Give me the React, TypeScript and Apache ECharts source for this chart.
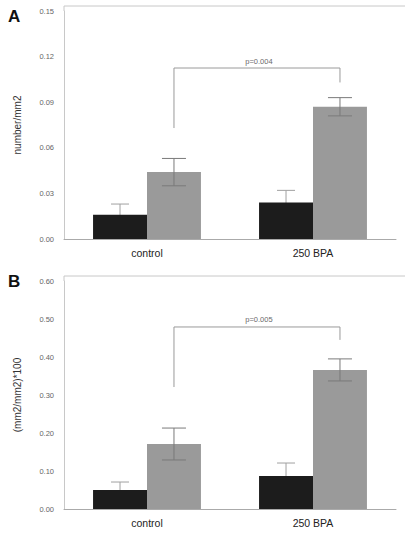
import React, { useEffect, useRef } from "react";
import * as echarts from "echarts";

const categories = ["control", "250 BPA"];

// Panel A: number/mm2
const aBlack = [0.016, 0.024];
const aBlackErr = [0.007, 0.008];
const aGray = [0.044, 0.087];
const aGrayErr = [0.009, 0.006];
const aTicks = { min: 0, max: 0.15, interval: 0.03 };
const aBracket = { y: 0.1125, yLeft: 0.073, yRight: 0.103, label: "p=0.004" };

// Panel B: (mm2/mm2)*100
const bBlack = [0.05, 0.087];
const bBlackErr = [0.021, 0.034];
const bGray = [0.171, 0.366];
const bGrayErr = [0.042, 0.029];
const bTicks = { min: 0, max: 0.6, interval: 0.1 };
const bBracket = { y: 0.479, yLeft: 0.321, yRight: 0.445, label: "p=0.005" };

const BAR_FRAC = 0.325;
const FONT = "Liberation Sans, Arial, sans-serif";

function errSeries(vals: number[], errs: number[], sign: number, idx: number, color: string, hw: number, z: number) {
  return {
    type: "custom",
    xAxisIndex: idx,
    yAxisIndex: idx,
    clip: false,
    z,
    encode: { x: 0, y: 1 },
    data: vals.map((v, i) => [i, v, errs[i]]),
    renderItem: (params: any, api: any) => {
      const x = api.value(0);
      const v = api.value(1);
      const e = api.value(2);
      const band = api.size([1, 0])[0];
      const off = (sign * band * BAR_FRAC) / 2;
      const top = api.coord([x, v + e]);
      const bot = api.coord([x, v - e]);
      const cx = top[0] + off;
      return {
        type: "group",
        children: [
          { type: "line", shape: { x1: cx, y1: bot[1], x2: cx, y2: top[1] }, style: { stroke: color, lineWidth: 1 } },
          { type: "line", shape: { x1: cx - hw, y1: top[1], x2: cx + hw, y2: top[1] }, style: { stroke: color, lineWidth: 1 } },
          { type: "line", shape: { x1: cx - hw, y1: bot[1], x2: cx + hw, y2: bot[1] }, style: { stroke: color, lineWidth: 1 } },
        ],
      };
    },
  };
}

function bracketSeries(b: any, idx: number) {
  return {
    type: "custom",
    xAxisIndex: idx,
    yAxisIndex: idx,
    clip: false,
    z: 6,
    encode: { x: 0, y: 1 },
    data: [[0, b.y, b.yLeft, b.yRight]],
    renderItem: (params: any, api: any) => {
      const band = api.size([1, 0])[0];
      const off = (band * BAR_FRAC) / 2;
      const y = api.value(1);
      const pTop = api.coord([0, y]);
      const pL = api.coord([0, api.value(2)]);
      const pR = api.coord([1, api.value(3)]);
      const rTop = api.coord([1, y]);
      const lx = pTop[0] + off;
      const rx = rTop[0] + off;
      return {
        type: "group",
        children: [
          {
            type: "polyline",
            shape: { points: [[lx, pL[1]], [lx, pTop[1]], [rx, pTop[1]], [rx, pR[1]]] },
            style: { stroke: "#9a9a9a", lineWidth: 1, fill: "none" },
          },
          {
            type: "text",
            x: (lx + rx) / 2 + 2,
            y: pTop[1] - 3,
            style: { text: b.label, fill: "#6a6a6a", font: `7.5px ${FONT}`, textAlign: "center", textVerticalAlign: "bottom" },
          },
        ],
      };
    },
  };
}

export default function App() {
  const ref = useRef<HTMLDivElement>(null);
  useEffect(() => {
    if (!ref.current) return;
    const chart = echarts.init(ref.current, undefined, { renderer: "svg" });
    const grids = [
      { left: 64, width: 332, top: 11, height: 228 },
      { left: 64, width: 332, top: 281, height: 228 },
    ];
    const mkX = (i: number) => ({
      type: "category",
      gridIndex: i,
      data: categories,
      axisTick: { show: false },
      axisLine: { lineStyle: { color: "#aaa", width: 1 } },
      axisLabel: { color: "#222", fontSize: 10.5, fontFamily: FONT, margin: 8 },
    });
    const mkY = (i: number, t: any, name: string) => ({
      type: "value",
      gridIndex: i,
      min: t.min,
      max: t.max,
      interval: t.interval,
      name,
      nameLocation: "middle",
      nameRotate: 90,
      nameGap: 42,
      nameTextStyle: { color: "#333", fontSize: 10, fontFamily: FONT },
      splitLine: { show: false },
      axisTick: { show: false },
      axisLine: { show: true, lineStyle: { color: "#c8c8c8", width: 1 } },
      axisLabel: {
        color: "#666",
        fontSize: 7.5,
        fontFamily: FONT,
        margin: 10,
        formatter: (v: number) => v.toFixed(2),
      },
    });
    const bar = (data: number[], color: string, i: number) => ({
      type: "bar",
      xAxisIndex: i,
      yAxisIndex: i,
      data,
      z: 2,
      barWidth: `${BAR_FRAC * 100}%`,
      barGap: "0%",
      itemStyle: { color },
    });
    chart.setOption({
      animation: false,
      backgroundColor: "#ffffff",
      grid: grids,
      xAxis: [mkX(0), mkX(1)],
      yAxis: [mkY(0, aTicks, "number/mm2"), mkY(1, bTicks, "(mm2/mm2)*100")],
      graphic: [
        { type: "text", left: 8, top: 8, style: { text: "A", font: `bold 17px ${FONT}`, fill: "#111" } },
        { type: "text", left: 8, top: 273, style: { text: "B", font: `bold 17px ${FONT}`, fill: "#111" } },
        { type: "line", shape: { x1: 64, y1: 6, x2: 405, y2: 6 }, style: { stroke: "#c8c8c8", lineWidth: 1 } },
        { type: "line", shape: { x1: 64, y1: 6, x2: 64, y2: 11 }, style: { stroke: "#c8c8c8", lineWidth: 1 } },
        { type: "line", shape: { x1: 64, y1: 276, x2: 405, y2: 276 }, style: { stroke: "#c8c8c8", lineWidth: 1 } },
        { type: "line", shape: { x1: 64, y1: 276, x2: 64, y2: 281 }, style: { stroke: "#c8c8c8", lineWidth: 1 } },
      ],
      series: [
        errSeries(aBlack, aBlackErr, -1, 0, "#a0a0a0", 9, 1),
        errSeries(aGray, aGrayErr, 1, 0, "#7a7a7a", 12, 5),
        bar(aBlack, "#1c1c1c", 0),
        bar(aGray, "#9a9a9a", 0),
        bracketSeries(aBracket, 0),
        errSeries(bBlack, bBlackErr, -1, 1, "#a0a0a0", 9, 1),
        errSeries(bGray, bGrayErr, 1, 1, "#7a7a7a", 12, 5),
        bar(bBlack, "#1c1c1c", 1),
        bar(bGray, "#9a9a9a", 1),
        bracketSeries(bBracket, 1),
      ],
    });
    return () => chart.dispose();
  }, []);
  return <div ref={ref} style={{ width: 410, height: 535, position: "absolute", left: 0, top: 0 }} />;
}
